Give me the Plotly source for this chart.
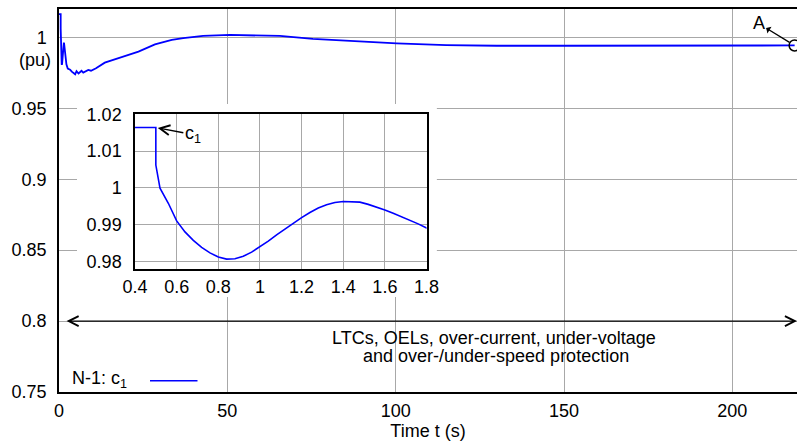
import plotly.graph_objects as go

# ---- data ----
t = [0, 0.5, 0.5, 0.52, 0.56, 0.60, 0.64, 0.68, 0.72, 0.76, 0.80, 0.84, 0.88, 0.92,
     0.96, 1.00, 1.04, 1.08, 1.12, 1.16, 1.20, 1.24, 1.28, 1.32, 1.36, 1.40, 1.44,
     1.48, 1.52, 1.56, 1.60, 1.64, 1.68, 1.72, 1.76, 1.80,
     2.2, 2.6, 3.3, 3.8, 4.3, 4.8, 5.2, 5.8, 6.7,
     7.2, 8.7, 9.5, 11.0, 13.6, 18.6, 23.6, 28.5, 33.5, 36.9, 42.8, 50.8, 65.6, 75.4,
     91.3, 100.3, 115, 130, 150, 175, 200, 218.5]
v = [1.0164, 1.0164, 1.0062, 0.9999, 0.9958, 0.9910, 0.9880, 0.9857, 0.9838, 0.9823,
     0.9812, 0.9806, 0.9807, 0.9814, 0.9825, 0.9839, 0.9855, 0.9872, 0.9888, 0.9904,
     0.9919, 0.9933, 0.9945, 0.9954, 0.9960, 0.9963, 0.9963, 0.9961, 0.9955, 0.9948,
     0.9940, 0.9931, 0.9922, 0.9912, 0.9902, 0.9891,
     0.9810, 0.9780, 0.9772, 0.9758, 0.9748, 0.9740, 0.9762, 0.9745, 0.9764,
     0.9752, 0.9770, 0.9765, 0.9782, 0.9822, 0.9860, 0.9900, 0.9951, 0.9982, 0.9994,
     1.0010, 1.0017, 1.0010, 0.9989, 0.9970, 0.9958, 0.9946, 0.9941, 0.9941, 0.9941,
     0.9941, 0.9943]

main_xticks = [0, 50, 100, 150, 200]
main_yticks = [0.75, 0.8, 0.85, 0.9, 0.95, 1.0]
main_ylabels = ["0.75", "0.8", "0.85", "0.9", "0.95", "1"]
inset_xticks = [0.4, 0.6, 0.8, 1.0, 1.2, 1.4, 1.6, 1.8]
inset_xlabels = ["0.4", "0.6", "0.8", "1", "1.2", "1.4", "1.6", "1.8"]
inset_yticks = [0.98, 0.99, 1.0, 1.01, 1.02]
inset_ylabels = ["0.98", "0.99", "1", "1.01", "1.02"]
protection_span = [1.8, 219.2]
protection_level = 0.8

FONT = "Liberation Sans, Arial, Helvetica, sans-serif"
BLUE = "#0000ff"
GRID = "#a8a8a8"
FS = 18

fig = go.Figure()

# main curve
fig.add_trace(go.Scatter(x=t, y=v, mode="lines", line=dict(color=BLUE, width=1.8),
                         xaxis="x", yaxis="y", showlegend=False, hoverinfo="skip"))
# end marker (open circle)
fig.add_trace(go.Scatter(x=[t[-1]], y=[v[-1]], mode="markers",
                         marker=dict(symbol="circle-open", size=11, color="black",
                                     line=dict(width=1.5, color="black")),
                         xaxis="x", yaxis="y", showlegend=False, hoverinfo="skip",
                         cliponaxis=False))
# white cover subplot (hides main grid behind the inset)
fig.add_trace(go.Scatter(x=[None], y=[None], xaxis="x2", yaxis="y2",
                         showlegend=False, hoverinfo="skip"))
# inset curve
fig.add_trace(go.Scatter(x=t, y=v, mode="lines", line=dict(color=BLUE, width=1.6),
                         xaxis="x3", yaxis="y3", showlegend=False, hoverinfo="skip"))

axis_common = dict(showline=True, linecolor="black", linewidth=1.5, zeroline=False,
                   gridcolor=GRID, gridwidth=1, showgrid=True, ticks="",
                   tickfont=dict(size=FS, color="black", family=FONT))

fig.update_layout(
    width=797, height=441, autosize=False,
    margin=dict(l=59, r=0, t=9, b=49, autoexpand=False),
    paper_bgcolor="white", plot_bgcolor="white",
    font=dict(family=FONT, size=FS, color="black"),
    xaxis=dict(**axis_common, range=[0, 219.2], tickvals=main_xticks, mirror=True,
               domain=[0, 1], anchor="y", automargin=False, ticklabelstandoff=2,
               title=dict(text="Time t (s)", standoff=0,
                          font=dict(size=FS, family=FONT, color="black"))),
    yaxis=dict(**axis_common, range=[0.75, 1.02], tickvals=main_yticks,
               ticktext=main_ylabels, mirror=False, domain=[0, 1], anchor="x",
               ticklabelstandoff=7, automargin=False),
    xaxis2=dict(domain=[0.0244, 0.512], anchor="y2", range=[0, 1], showgrid=False,
                showticklabels=False, zeroline=False, showline=False),
    yaxis2=dict(domain=[0.248, 0.752], anchor="x2", range=[0, 1], showgrid=False,
                showticklabels=False, zeroline=False, showline=False),
    xaxis3=dict(**axis_common, range=[0.4, 1.8], tickvals=inset_xticks,
                ticktext=inset_xlabels, mirror=True, domain=[0.103, 0.498],
                anchor="y3", ticklabelstandoff=1, automargin=False),
    yaxis3=dict(**axis_common, range=[0.9779, 1.02], tickvals=inset_yticks,
                ticktext=inset_ylabels, mirror=True, domain=[0.321, 0.725],
                anchor="x3", ticklabelstandoff=8, automargin=False),
)

annotations = [
    # y-axis unit label
    dict(text="(pu)", xref="paper", yref="paper", x=-0.0081, y=0.867,
         xanchor="right", yanchor="middle", showarrow=False, font=dict(size=FS)),
    # double-headed protection arrow
    dict(text="", xref="x", yref="y", axref="x", ayref="y",
         x=protection_span[1], y=protection_level, ax=protection_span[0],
         ay=protection_level, showarrow=True, arrowhead=5, startarrowhead=5,
         arrowside="end+start", arrowsize=1.5, startarrowsize=1.5,
         arrowwidth=1.3, arrowcolor="black", standoff=0, startstandoff=0),
    dict(text="LTCs, OELs, over-current, under-voltage", xref="paper", yref="paper",
         x=(494 - 59) / 738, y=(392 - 338.2) / 383, xanchor="center", yanchor="middle",
         showarrow=False, font=dict(size=FS)),
    dict(text="and over-/under-speed protection", xref="paper", yref="paper",
         x=(496 - 59) / 738, y=(392 - 355.8) / 383, xanchor="center", yanchor="middle",
         showarrow=False, font=dict(size=FS)),
    # A label with arrow from end marker
    dict(text="A", xref="x", yref="y", x=t[-1], y=v[-1], ax=-36, ay=-22,
         showarrow=True, arrowhead=5, arrowside="start", arrowsize=1.5,
         arrowwidth=1.3, arrowcolor="black", standoff=6, startstandoff=0,
         font=dict(size=FS)),
    # c1 label in inset
    dict(text="c<sub>1</sub>", xref="x3", yref="y3", x=t[1], y=v[1], ax=37, ay=7,
         showarrow=True, arrowhead=5, arrowsize=1.5, arrowwidth=1.3,
         arrowcolor="black", standoff=2, font=dict(size=FS)),
    # legend text
    dict(text="N-1: c<sub>1</sub>", xref="paper", yref="paper", x=(70 - 59) / 738,
         y=(392 - 379) / 383, xanchor="left", yanchor="middle", showarrow=False,
         font=dict(size=FS)),
]
fig.update_layout(annotations=annotations)

# legend line sample
fig.add_shape(type="line", xref="paper", yref="paper",
              x0=(150 - 59) / 738, x1=(197.5 - 59) / 738,
              y0=(392 - 380.7) / 383, y1=(392 - 380.7) / 383,
              line=dict(color=BLUE, width=1.6))

fig.write_html(
    "out.html",
    config={"responsive": False, "displayModeBar": False},
    default_width="797px", default_height="441px",
    post_script="document.body.style.margin='0';document.body.style.padding='0';"
                "document.body.style.overflow='hidden';",
)
